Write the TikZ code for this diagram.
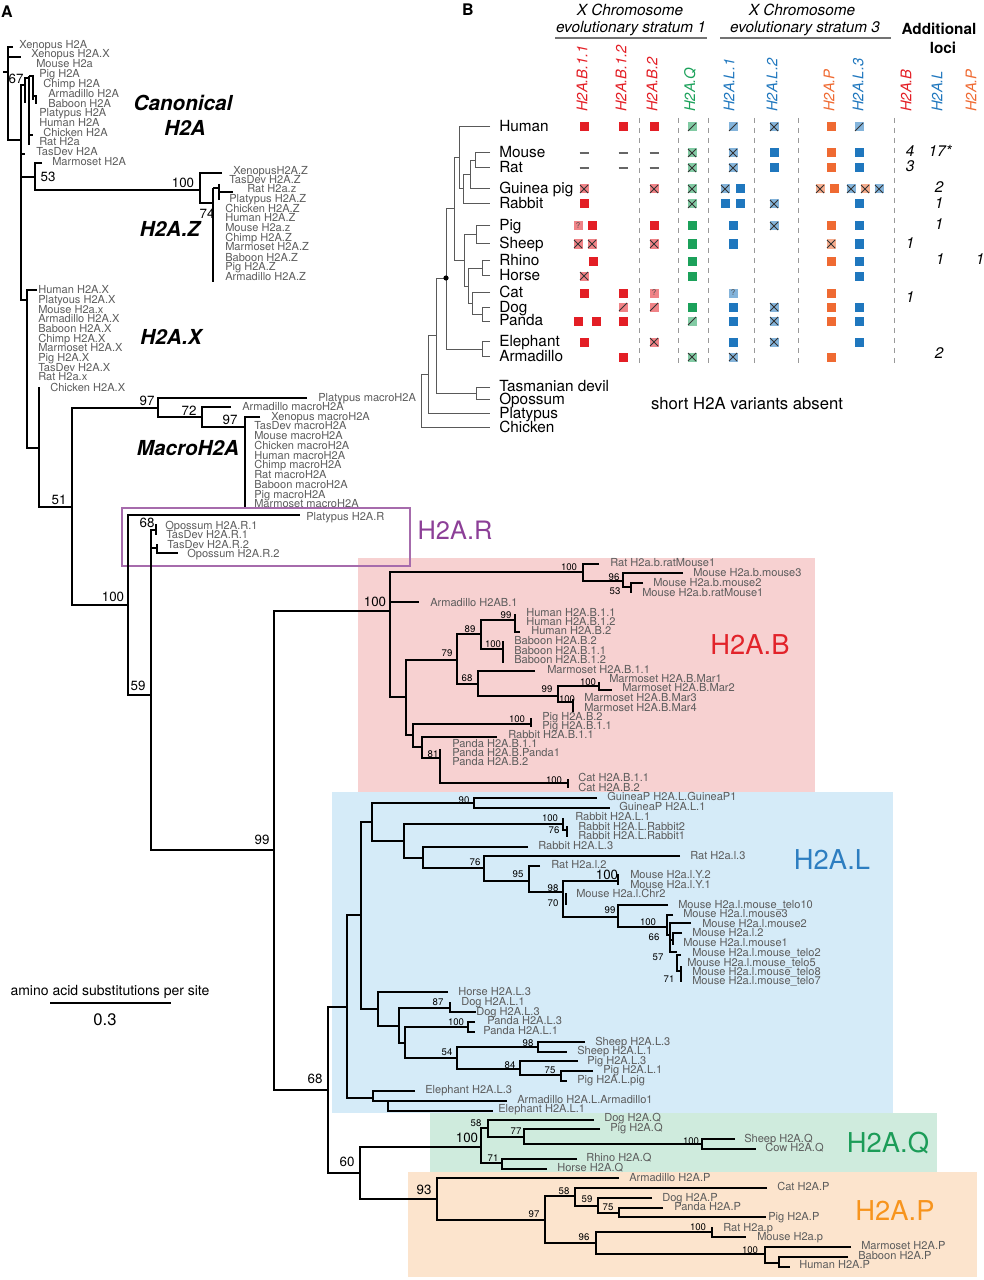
\documentclass[tikz,border=0pt]{standalone}
\usepackage{fontspec}
\setmainfont{TeX Gyre Heros}

\definecolor{leafgray}{HTML}{5C5C5C}
\definecolor{pinkbox}{HTML}{F7D1D1}
\definecolor{bluebox}{HTML}{D5EBF8}
\definecolor{greenbox}{HTML}{CFEBDD}
\definecolor{orangebox}{HTML}{FCE4CD}
\definecolor{hred}{HTML}{E2232A}
\definecolor{hblue}{HTML}{2D7EC1}
\definecolor{hgreen}{HTML}{1C9C58}
\definecolor{horange}{HTML}{F7941D}
\definecolor{hpurple}{HTML}{8C3F97}
\definecolor{boxpurple}{HTML}{A66BAC}
\definecolor{sqred}{HTML}{E31E25}
\definecolor{sqgreen}{HTML}{1BA15A}
\definecolor{sqblue}{HTML}{1F77BE}
\definecolor{sqorange}{HTML}{EF6A32}

\tikzset{
  br/.style={line width=1.3pt},
  leaf/.style={anchor=west, inner sep=0pt, text=leafgray, font=\fontsize{8.3}{9}\selectfont, text height=6pt, text depth=0pt},
  bsbig/.style={inner sep=0pt, font=\fontsize{10}{11}\selectfont},
  bssmall/.style={inner sep=0pt, font=\fontsize{7.2}{8}\selectfont},
  cladename/.style={inner sep=0pt, font=\fontsize{15.5}{17}\selectfont\bfseries\itshape},
  variant/.style={inner sep=0pt, font=\fontsize{20.5}{22}\selectfont},
  panel/.style={inner sep=0pt, font=\fontsize{12}{13}\selectfont\bfseries},
  spec/.style={anchor=west, inner sep=0pt, font=\fontsize{11.5}{12}\selectfont, text height=8.3pt, text depth=0pt},
  colhead/.style={anchor=west, rotate=90, inner sep=0pt, font=\fontsize{11}{12}\selectfont\itshape},
  addnum/.style={inner sep=0pt, font=\fontsize{11.5}{12}\selectfont\itshape},
  btree/.style={line width=0.6pt, black!65},
  sepline/.style={dash pattern=on 4pt off 3.5pt, black!40, line width=0.6pt},
  strat/.style={black!55, line width=1pt},
  xmark/.style={line width=0.7pt, black!80},
  qmark/.style={inner sep=0pt, font=\fontsize{6}{6}\selectfont, text=black!70},
  dmark/.style={black!60, line width=0.8pt}
}

% marks of panel B
\newcommand{\markF}[3]{\fill[#3] ({#1-4.5},{#2-4.5}) rectangle ({#1+4.5},{#2+4.5});}
\newcommand{\markX}[3]{\fill[#3!55] ({#1-4.5},{#2-4.5}) rectangle ({#1+4.5},{#2+4.5});
  \draw[xmark] ({#1-4},{#2-4}) -- ({#1+4},{#2+4}) ({#1-4},{#2+4}) -- ({#1+4},{#2-4});}
\newcommand{\markS}[3]{\fill[#3!55] ({#1-4.5},{#2-4.5}) rectangle ({#1+4.5},{#2+4.5});
  \draw[xmark] ({#1-4},{#2+4}) -- ({#1+4},{#2-4});}
\newcommand{\markQ}[4]{\fill[#3!55] ({#1-4.5},{#2-4.5}) rectangle ({#1+4.5},{#2+4.5});
  \node[qmark] (#4) at (#1,#2) {?};}
\newcommand{\markD}[2]{\draw[dmark] ({#1-4.5},#2) -- ({#1+4.5},#2);}

\begin{document}
\begin{tikzpicture}[x=0.75pt,y=-0.75pt]
\useasboundingbox (0,0) rectangle (984,1280);

% clade boxes
\fill[pinkbox] (358,558) rectangle (815,792);
\fill[bluebox] (332,792) rectangle (893,1113);
\fill[greenbox] (430,1113) rectangle (937,1172);
\fill[orangebox] (408,1172) rectangle (977,1277);
\draw[boxpurple, line width=0.8pt] (122,508) rectangle (410,566);

%%% panel A tree
% root and canonical H2A
\draw[br] (3,72) -- (8,72);
\draw[br] (13,47) -| (8,140) -- (21,140);
\draw[br] (8,57) -- (21,57);
\draw[br] (25,85) -| (21,300) -- (27,300);
\draw[br] (29,78) -| (25,103);
\draw[br] (29,76) -- (29,145);
\draw[br] (29,76) -| (33,100);
\draw[br] (33,96) -| (36,104);
\draw[br] (29,135) -- (33,135);
\draw[br] (21,154) -- (25,154);
\draw[br] (21,177) -- (35,177);
\draw[br] (42,163) -| (35,190) -- (200,190);
% H2A.Z
\draw[br] (222,173) -| (200,203) -- (213,203);
\draw[br] (213,188) -- (213,282);
\draw[br] (213,188) -- (219,188);
\draw[br] (219,184) -- (219,200);
\draw[br] (219,192) -- (233,192);
% H2A.X
\draw[br] (37,290) -| (27,448) -- (39,448);
\draw[br] (39,387) -- (39,507) -- (72,507);
% macroH2A
\draw[br] (158,408) -| (72,605) -- (128,605);
\draw[br] (307,398) -| (158,417) -- (202,417);
\draw[br] (231,407) -| (202,427) -- (245,427);
\draw[br] (260,417) -| (245,507);
% H2A.R
\draw[br] (300,515) -| (128,695) -- (151,695);
\draw[br] (156,530) -| (151,850) -- (274,850);
\draw[br] (156,524) -- (156,535);
\draw[br] (151,548) -| (157,553) -- (178,553);
\draw[br] (157,544) -- (157,553);
% H2A.B
\draw[br] (390,611) -| (274,1090) -- (328,1090);
\draw[br] (583,572) -| (390,697) -- (406,697);
\draw[br] (390,602) -- (419,602);
\draw[br] (599,564) -| (583,581) -- (623,581);
\draw[br] (683,573) -| (623,587) -- (631,587);
\draw[br] (643,583) -| (631,593);
\draw[br] (457,660) -| (406,735) -- (413,735);
\draw[br] (481,634) -| (457,684) -- (478,684);
\draw[br] (515,620) -| (481,649) -- (503,649);
\draw[br] (515,614) -- (515,632) -- (520,632);
\draw[br] (503,641) -- (503,663);
\draw[br] (535,671) -| (478,696) -- (558,696);
\draw[br] (599,686) -| (558,702) -- (573,702);
\draw[br] (599,682) -- (599,690) -- (612,690);
\draw[br] (573,699) -- (573,712);
\draw[br] (531,724) -| (413,747) -- (422,747);
\draw[br] (531,718) -- (531,727);
\draw[br] (497,737) -| (422,758) -- (440,758);
\draw[br] (440,749) -- (440,783) -- (568,783);
\draw[br] (568,779) -- (568,788);
% H2A.L
\draw[br] (347,1007) -| (328,1173) -- (360,1173);
\draw[br] (361,915) -| (347,1098) -- (373,1098);
\draw[br] (372,822) -| (361,1009) -- (378,1009);
\draw[br] (474,803) -| (372,841) -- (404,841);
\draw[br] (597,798) -| (474,808) -- (610,808);
\draw[br] (563,824) -| (404,858) -- (423,858);
\draw[br] (563,818) -- (563,830) -- (567,830);
\draw[br] (567,826) -- (567,837);
\draw[br] (528,847) -| (423,868) -- (484,868);
\draw[br] (680,856) -| (484,881) -- (529,881);
\draw[br] (540,866) -| (529,892) -- (563,892);
\draw[br] (618,881) -| (563,917) -- (618,917);
\draw[br] (566,893) -- (566,905);
\draw[br] (618,874) -- (618,885);
\draw[br] (668,905) -| (618,927) -- (667,927);
\draw[br] (673,915) -| (667,935) -- (670,935);
\draw[br] (691,923) -| (670,952) -- (677,952);
\draw[br] (670,940) -- (673,940);
\draw[br] (682,933) -| (673,945);
\draw[br] (681,955) -| (677,971) -- (681,971);
\draw[br] (681,966) -- (681,982);
\draw[br] (448,992) -| (378,1026) -- (399,1026);
\draw[br] (450,1008) -| (399,1043) -- (405,1043);
\draw[br] (450,1002) -- (450,1012) -- (476,1012);
\draw[br] (468,1027) -| (405,1058) -- (457,1058);
\draw[br] (475,1022) -| (468,1032) -- (475,1032);
\draw[br] (538,1047) -| (457,1069) -- (520,1069);
\draw[br] (585,1042) -| (538,1052) -- (567,1052);
\draw[br] (578,1061) -| (520,1075) -- (561,1075);
\draw[br] (593,1071) -| (561,1081) -- (567,1081);
\draw[br] (415,1091) -| (373,1101) -- (388,1101);
\draw[br] (507,1101) -| (388,1111) -- (493,1111);
% H2A.Q and H2A.P
\draw[br] (481,1147) -| (360,1199) -- (437,1199);
\draw[br] (488,1128) -| (481,1163) -- (502,1163);
\draw[br] (594,1120) -| (488,1137) -- (524,1137);
\draw[br] (600,1129) -| (524,1144) -- (702,1144);
\draw[br] (735,1139) -| (702,1149) -- (756,1149);
\draw[br] (577,1159) -| (502,1169) -- (547,1169);
\draw[br] (619,1178) -| (437,1220) -- (545,1220);
\draw[br] (575,1196) -| (545,1243) -- (596,1243);
\draw[br] (767,1188) -| (575,1206) -- (598,1206);
\draw[br] (652,1198) -| (598,1213) -- (619,1213);
\draw[br] (663,1208) -| (619,1217) -- (766,1217);
\draw[br] (712,1232) -| (596,1254) -- (765,1254);
\draw[br] (712,1227) -- (712,1237) -- (746,1237);
\draw[br] (851,1247) -| (765,1263) -- (779,1263);
\draw[br] (848,1257) -| (779,1267) -- (790,1267);

% leaf labels
\foreach \x/\y/\txt [count=\i] in {19/45/Xenopus H2A, 31/54/Xenopus H2A.X, 36/64/Mouse H2a, 39/74/Pig H2A,
  43/84/Chimp H2A, 48/94/Armadillo H2A, 48/104/Baboon H2A, 39/113/Platypus H2A, 39/123/Human H2A,
  43/133/Chicken H2A, 39/142/Rat H2a, 36/152/TasDev H2A, 52/162/Marmoset H2A}
  \node[leaf] (can\i) at (\x,\y) {\txt};
\foreach \x/\y/\txt [count=\i] in {233/171/XenopusH2A.Z, 229/180/TasDev H2A.Z, 247/189/Rat H2a.z,
  229/199/Platypus H2A.Z, 225/209/Chicken H2A.Z, 225/218/Human H2A.Z, 225/228/Mouse H2a.z,
  225/238/Chimp H2A.Z, 225/247/Marmoset H2A.Z, 225/257/Baboon H2A.Z, 225/266/Pig H2A.Z, 225/276/Armadillo H2A.Z}
  \node[leaf] (hz\i) at (\x,\y) {\txt};
\foreach \x/\y/\txt [count=\i] in {38/289/Human H2A.X, 38/299/Platyous H2A.X, 38/309/Mouse H2a.x,
  38/318/Armadillo H2A.X, 38/328/Baboon H2A.X, 38/338/Chimp H2A.X, 38/347/Marmoset H2A.X, 38/357/Pig H2A.X,
  38/367/TasDev H2A.X, 38/376/Rat H2a.x, 50/387/Chicken H2A.X}
  \node[leaf] (hx\i) at (\x,\y) {\txt};
\foreach \x/\y/\txt [count=\i] in {318/397/Platypus macroH2A, 242/406/Armadillo macroH2A, 271/416/Xenopus macroH2A,
  254/425/TasDev macroH2A, 254/435/Mouse macroH2A, 254/445/Chicken macroH2A, 254/455/Human macroH2A,
  254/464/Chimp macroH2A, 254/474/Rat macroH2A, 254/484/Baboon macroH2A, 254/494/Pig macroH2A, 254/503/Marmoset macroH2A}
  \node[leaf] (mac\i) at (\x,\y) {\txt};
\foreach \x/\y/\txt [count=\i] in {306/516/Platypus H2A.R, 165/525/Opossum H2A.R.1, 166/534/TasDev H2A.R.1,
  167/544/TasDev H2A.R.2, 187/553/Opossum H2A.R.2}
  \node[leaf] (hr\i) at (\x,\y) {\txt};
\foreach \x/\y/\txt [count=\i] in {610/562/Rat H2a.b.ratMouse1, 693/572/Mouse H2a.b.mouse3, 653/582/Mouse H2a.b.mouse2,
  642/592/Mouse H2a.b.ratMouse1, 430/602/Armadillo H2AB.1, 526/612/Human H2A.B.1.1, 526/621/Human H2A.B.1.2,
  531/630/Human H2A.B.2, 514/640/Baboon H2A.B.2, 514/650/Baboon H2A.B.1.1, 514/659/Baboon H2A.B.1.2,
  547/669/Marmoset H2A.B.1.1, 609/678/Marmoset H2A.B.Mar1, 622/687/Marmoset H2A.B.Mar2, 584/697/Marmoset H2A.B.Mar3,
  584/707/Marmoset H2A.B.Mar4, 542/716/Pig H2A.B.2, 542/725/Pig H2A.B.1.1, 508/734/Rabbit H2A.B.1.1,
  452/743/Panda H2A.B.1.1, 452/752/Panda H2A.B.Panda1, 452/761/Panda H2A.B.2, 578/777/Cat H2A.B.1.1, 578/787/Cat H2A.B.2}
  \node[leaf] (hb\i) at (\x,\y) {\txt};
\foreach \x/\y/\txt [count=\i] in {607/796/GuineaP H2A.L.GuineaP1, 619/806/GuineaP H2A.L.1, 575/816/Rabbit H2A.L.1,
  578/826/Rabbit H2A.L.Rabbit2, 578/835/Rabbit H2A.L.Rabbit1, 538/845/Rabbit H2A.L.3, 690/855/Rat H2a.l.3,
  551/864/Rat H2a.l.2, 630/874/Mouse H2a.l.Y.2, 630/884/Mouse H2a.l.Y.1, 576/893/Mouse H2a.l.Chr2,
  678/904/Mouse H2a.l.mouse\_telo10, 683/913/Mouse H2a.l.mouse3, 702/923/Mouse H2a.l.mouse2, 692/932/Mouse H2a.l.2,
  683/942/Mouse H2a.l.mouse1, 692/952/Mouse H2a.l.mouse\_telo2, 687/962/Mouse H2a.l.mouse\_telo5,
  692/971/Mouse H2a.l.mouse\_telo8, 692/980/Mouse H2a.l.mouse\_telo7, 458/991/Horse H2A.L.3, 461/1001/Dog H2A.L.1,
  476/1011/Dog H2A.L.3, 487/1020/Panda H2A.L.3, 483/1030/Panda H2A.L.1, 595/1041/Sheep H2A.L.3, 577/1050/Sheep H2A.L.1,
  587/1060/Pig H2A.L.3, 603/1069/Pig H2A.L.1, 577/1079/Pig H2A.L.pig, 425/1089/Elephant H2A.L.3,
  517/1099/Armadillo H2A.L.Armadillo1, 498/1108/Elephant H2A.L.1}
  \node[leaf] (hl\i) at (\x,\y) {\txt};
\foreach \x/\y/\txt [count=\i] in {604/1117/Dog H2A.Q, 610/1127/Pig H2A.Q, 744/1138/Sheep H2A.Q, 765/1147/Cow H2A.Q,
  586/1157/Rhino H2A.Q, 557/1167/Horse H2A.Q}
  \node[leaf] (hq\i) at (\x,\y) {\txt};
\foreach \x/\y/\txt [count=\i] in {629/1177/Armadillo H2A.P, 777/1186/Cat H2A.P, 662/1197/Dog H2A.P,
  674/1206/Panda H2A.P, 768/1216/Pig H2A.P, 723/1227/Rat H2a.p, 757/1236/Mouse H2a.p,
  861/1245/Marmoset H2A.P, 858/1255/Baboon H2A.P, 799/1264/Human H2A.P}
  \node[leaf] (hp\i) at (\x,\y) {\txt};

% bootstrap values
\foreach \x/\y/\txt [count=\i] in {16/79/67, 48/177/53, 183/183/100, 207/214/74, 147/401/97, 189/411/72,
  230/420/97, 59/500/51, 113/597/100, 147/523/68, 138/686/59, 262/840/99, 375/602/100, 315/1079/68,
  347/1162/60, 467/1138/100, 424/1190/93, 607/875/100}
  \node[bsbig] (bb\i) at (\x,\y) {\txt};
\foreach \x/\y/\txt [count=\i] in {569/567/100, 614/577/96, 615/591/53, 506/615/99, 470/629/89, 493/644/100,
  447/653/79, 467/678/68, 547/689/99, 588/682/100, 567/699/100, 517/719/100, 433/754/81, 554/780/100,
  464/800/90, 550/818/100, 554/830/76, 475/862/76, 518/874/95, 553/888/98, 553/903/70, 610/910/99,
  648/922/100, 654/937/66, 658/957/57, 669/979/71, 438/1002/87, 456/1022/100, 447/1052/54, 528/1043/98,
  510/1065/84, 550/1070/75, 476/1123/58, 516/1131/77, 691/1141/100, 493/1158/71, 534/1214/97,
  564/1191/58, 587/1199/59, 608/1207/75, 584/1237/96, 698/1227/100, 750/1250/100}
  \node[bssmall] (bs\i) at (\x,\y) {\txt};

% clade names
\node[panel] (panelA) at (7,12) {A};
\node[cladename] (canon1) at (183,103) {Canonical};
\node[cladename] (canon2) at (185,128) {H2A};
\node[cladename] (zlab) at (170,229) {H2A.Z};
\node[cladename] (xlab) at (171,337) {H2A.X};
\node[cladename] (maclab) at (188,448) {MacroH2A};
\node[variant, text=hpurple, font=\fontsize{19}{21}\selectfont] (rlab) at (455,530) {H2A.R};
\node[variant, text=hred] (blab) at (750,645) {H2A.B};
\node[variant, text=hblue] (llab) at (832,860) {H2A.L};
\node[variant, text=hgreen] (qlab) at (888,1143) {H2A.Q};
\node[variant, text=horange] (plab) at (895,1211) {H2A.P};

% scale bar
\node[inner sep=0pt, font=\fontsize{10.5}{12}\selectfont, text height=7.5pt, text depth=0pt] (scaletxt) at (110,990) {amino acid substitutions per site};
\draw[line width=1.1pt] (50,1003) -- (171,1003);
\node[inner sep=0pt, font=\fontsize{12.5}{14}\selectfont] (scaleval) at (105,1020) {0.3};

%%% panel B
\node[panel] (panelB) at (468,10) {B};
\node[inner sep=0pt, font=\fontsize{11.5}{13}\selectfont\itshape] (xchr1a) at (630,10) {X Chromosome};
\node[inner sep=0pt, font=\fontsize{11.5}{13}\selectfont\itshape, text height=8.3pt, text depth=0pt] (xchr1b) at (631,27) {evolutionary stratum 1};
\node[inner sep=0pt, font=\fontsize{11.5}{13}\selectfont\itshape] (xchr3a) at (802,10) {X Chromosome};
\node[inner sep=0pt, font=\fontsize{11.5}{13}\selectfont\itshape, text height=8.3pt, text depth=0pt] (xchr3b) at (805,27) {evolutionary stratum 3};
\node[inner sep=0pt, font=\fontsize{11.5}{13}\selectfont\bfseries] (addl1) at (939,29) {Additional};
\node[inner sep=0pt, font=\fontsize{11.5}{13}\selectfont\bfseries] (addl2) at (943,48) {loci};
\draw[strat] (555,38) -- (707,38);
\draw[strat] (720,38) -- (891,38);

% column headers
\foreach \x/\txt/\cl [count=\i] in {582/H2A.B.1.1/sqred, 621/H2A.B.1.2/sqred, 652/H2A.B.2/sqred, 690/H2A.Q/sqgreen,
  729/H2A.L.1/sqblue, 772/H2A.L.2/sqblue, 829/H2A.P/sqorange, 858/H2A.L.3/sqblue,
  906/H2A.B/sqred, 937/H2A.L/sqblue, 971/H2A.P/sqorange}
  \node[colhead, text=\cl] (col\i) at (\x,112) {\txt};

% cladogram of species
\draw[btree] (490,126) -| (459,188) -- (463,188);
\draw[btree] (490,152) -| (475,167) -- (490,167);
\draw[btree] (475,160) -| (470,188) -- (490,188);
\draw[btree] (470,174) -| (463,203) -- (490,203);
\draw[btree] (490,225) -| (476,243) -- (490,243);
\draw[btree] (490,260) -| (482,275) -- (490,275);
\draw[btree] (490,307) -| (482,321) -- (490,321);
\draw[btree] (490,292) -| (472,314) -- (482,314);
\draw[btree] (482,268) -| (468,303) -- (472,303);
\draw[btree] (476,234) -| (464,286) -- (468,286);
\draw[btree] (459,157) -| (454,260) -- (464,260);
\draw[btree] (490,341) -| (482,356) -- (490,356);
\draw[btree] (454,208) -| (446,349) -- (482,349);
\draw[btree] (490,387) -| (476,399) -- (490,399);
\draw[btree] (446,278) -| (436,393) -- (476,393);
\draw[btree] (436,335) -| (428,413) -- (490,413);
\draw[btree] (428,374) -| (421,427) -- (490,427);
\fill (446,278) circle (2.6);

\foreach \y/\txt [count=\i] in {126/Human, 152/Mouse, 167/Rat, 188/Guinea pig, 203/Rabbit, 225/Pig, 243/Sheep,
  260/Rhino, 275/Horse, 292/Cat, 307/Dog, 320/Panda, 341/Elephant, 356/Armadillo,
  386/Tasmanian devil, 399/Opossum, 413/Platypus, 427/Chicken}
  \node[spec] (sp\i) at (499,\y) {\txt};

% dashed separators
\foreach \x in {639,678,708,754,798,894}
  \draw[sepline] (\x,118) -- (\x,363);

% presence of the genes
\markF{584}{127}{sqred} \markF{623}{127}{sqred} \markF{654}{127}{sqred} \markS{692}{127}{sqgreen}
\markS{733}{127}{sqblue} \markX{774}{127}{sqblue} \markF{831}{127}{sqorange} \markS{859}{127}{sqblue}
\markD{584}{153} \markD{623}{153} \markD{654}{153} \markX{692}{153}{sqgreen}
\markX{733}{153}{sqblue} \markF{774}{153}{sqblue} \markF{831}{153}{sqorange} \markF{859}{153}{sqblue}
\markD{584}{168} \markD{623}{168} \markD{654}{168} \markX{692}{168}{sqgreen}
\markX{733}{168}{sqblue} \markF{774}{168}{sqblue} \markF{831}{168}{sqorange} \markF{859}{168}{sqblue}
\markX{584}{189}{sqred} \markX{654}{189}{sqred} \markX{692}{189}{sqgreen} \markX{725}{189}{sqblue}
\markF{740}{189}{sqblue} \markX{820}{189}{sqorange} \markF{834}{189}{sqorange} \markX{851}{189}{sqblue}
\markX{865}{189}{sqorange} \markX{879}{189}{sqblue}
\markF{584}{204}{sqred} \markX{692}{204}{sqgreen} \markF{725}{204}{sqblue} \markF{740}{204}{sqblue}
\markX{774}{204}{sqblue} \markF{859}{204}{sqblue}
\markQ{578}{226}{sqred}{qpig} \markF{592}{226}{sqred} \markF{654}{226}{sqred} \markF{692}{226}{sqgreen}
\markF{733}{226}{sqblue} \markX{774}{226}{sqblue} \markF{831}{226}{sqorange} \markF{859}{226}{sqblue}
\markX{578}{244}{sqred} \markX{592}{244}{sqred} \markX{654}{244}{sqred} \markF{692}{244}{sqgreen}
\markF{733}{244}{sqblue} \markX{831}{244}{sqorange} \markF{859}{244}{sqblue}
\markF{593}{261}{sqred} \markF{692}{261}{sqgreen} \markF{831}{261}{sqorange} \markF{859}{261}{sqblue}
\markX{584}{276}{sqred} \markF{692}{276}{sqgreen} \markF{859}{276}{sqblue}
\markF{584}{293}{sqred} \markF{623}{293}{sqred} \markQ{654}{293}{sqred}{qcatb} \markQ{733}{293}{sqblue}{qcatl}
\markF{831}{293}{sqorange}
\markS{623}{307}{sqred} \markS{654}{307}{sqred} \markF{692}{307}{sqgreen} \markF{733}{307}{sqblue}
\markX{774}{307}{sqblue} \markF{831}{307}{sqorange} \markF{859}{307}{sqblue}
\markF{578}{321}{sqred} \markF{596}{321}{sqred} \markF{623}{321}{sqred} \markS{692}{321}{sqgreen}
\markF{733}{321}{sqblue} \markX{774}{321}{sqblue} \markF{831}{321}{sqorange} \markF{859}{321}{sqblue}
\markF{584}{342}{sqred} \markX{654}{342}{sqred} \markF{733}{342}{sqblue} \markX{774}{342}{sqblue}
\markF{859}{342}{sqblue}
\markF{623}{357}{sqred} \markX{692}{357}{sqgreen} \markX{733}{357}{sqblue} \markF{831}{357}{sqorange}

% additional loci
\foreach \x/\y/\txt [count=\i] in {910/151/4, 940/151/17*, 910/166/3, 939/187/2, 939/203/1, 939/224/1,
  910/243/1, 940/259/1, 980/259/1, 910/297/1, 939/353/2}
  \node[addnum] (add\i) at (\x,\y) {\txt};

\node[inner sep=0pt, font=\fontsize{12.5}{14}\selectfont] (absent) at (747,404) {short H2A variants absent};
\end{tikzpicture}
\end{document}
